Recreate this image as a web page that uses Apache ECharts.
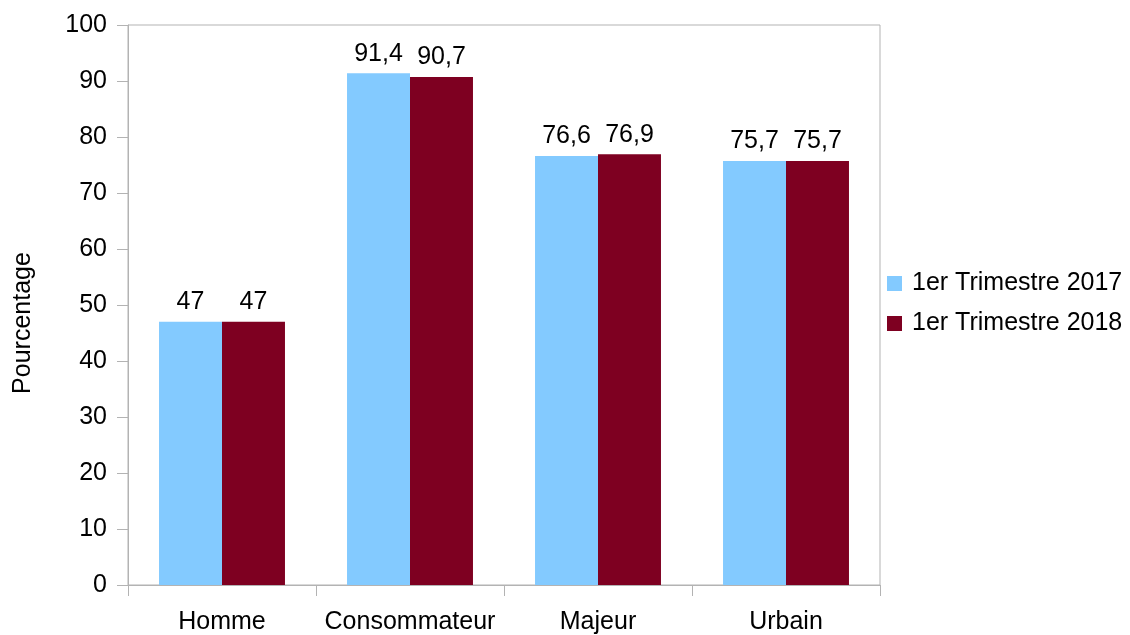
<!DOCTYPE html>
<html><head><meta charset="utf-8">
<script src="https://cdn.jsdelivr.net/npm/echarts@6/dist/echarts.min.js"></script>
<style>html,body{margin:0;padding:0;background:#fff}#c{width:1130px;height:635px}</style>
</head><body><div id="c"></div>
<script>
const categories = ['Homme', 'Consommateur', 'Majeur', 'Urbain'];
const series2017 = [47, 91.4, 76.6, 75.7];
const series2018 = [47, 90.7, 76.9, 75.7];
const seriesNames = ['1er Trimestre 2017', '1er Trimestre 2018'];
const yTicks = {min: 0, max: 100, interval: 10};

const font = 'Liberation Sans, Arial, sans-serif';
const fs = 25;
const fmt = p => String(p.value).replace('.', ',');
const chart = echarts.init(document.getElementById('c'));
chart.setOption({
  animation: false,
  textStyle: {fontFamily: font},
  grid: {left: 128, right: 250, top: 25, bottom: 49, show: true, borderColor: '#b3b3b3', borderWidth: 1, containLabel: false},
  legend: {
    orient: 'vertical', left: 887, top: 271, padding: 0, itemWidth: 15, itemHeight: 15, itemGap: 15,
    icon: 'rect',
    textStyle: {fontSize: fs, color: '#000', fontFamily: font, padding: [0, 0, 0, 5]},
    data: seriesNames
  },
  xAxis: {
    type: 'category', data: categories,
    axisLine: {lineStyle: {color: '#b3b3b3'}},
    axisTick: {show: true, interval: 0, length: 11, lineStyle: {color: '#b3b3b3'}},
    axisLabel: {interval: 0, fontSize: fs, color: '#000', margin: 25, fontFamily: font}
  },
  yAxis: {
    type: 'value', min: yTicks.min, max: yTicks.max, interval: yTicks.interval,
    name: 'Pourcentage', nameLocation: 'middle', nameGap: 92,
    nameTextStyle: {fontSize: fs, color: '#000', fontFamily: font, padding: [0, 36, 0, 0]},
    axisLine: {show: true, lineStyle: {color: '#b3b3b3'}},
    axisTick: {show: true, length: 11, lineStyle: {color: '#b3b3b3'}},
    splitLine: {show: false},
    axisLabel: {fontSize: fs, color: '#000', margin: 21, fontFamily: font}
  },
  series: [
    {name: seriesNames[0], type: 'bar', data: series2017, barGap: '0%', barCategoryGap: '33%',
     itemStyle: {color: '#83caff'},
     label: {show: true, position: 'top', distance: 7, fontSize: fs, color: '#000', formatter: fmt, fontFamily: font}},
    {name: seriesNames[1], type: 'bar', data: series2018, barGap: '0%', barCategoryGap: '33%',
     itemStyle: {color: '#7e0021'},
     label: {show: true, position: 'top', distance: 7, fontSize: fs, color: '#000', formatter: fmt, fontFamily: font}}
  ]
});
</script></body></html>
